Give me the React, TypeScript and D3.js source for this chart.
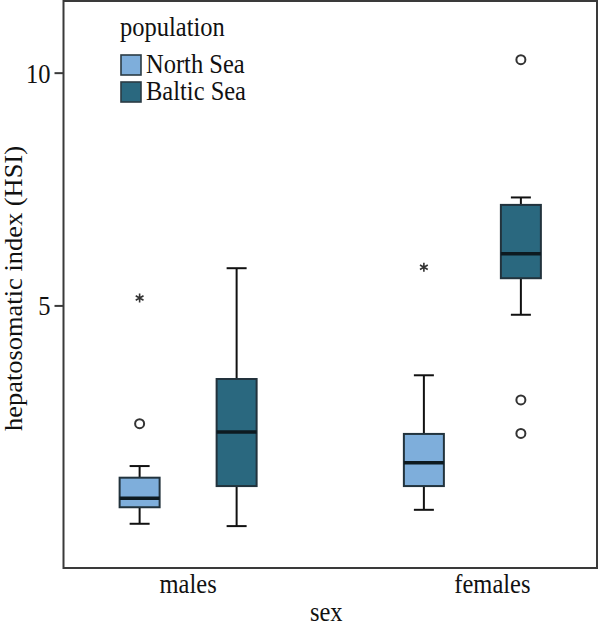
import React from "react";
import * as d3 from "d3";

const sexes = ["males", "females"];
const populations = ["North Sea", "Baltic Sea"];
const popColors = ["#7eaedb", "#2a687f"];

// per sex, per population
const whiskerLow = [[0.32, 0.27], [0.62, 4.81]];
const q1 = [[0.675, 1.13], [1.13, 5.595]];
const medians = [[0.868, 2.29], [1.63, 6.12]];
const q3 = [[1.31, 3.43], [2.25, 7.17]];
const whiskerHigh = [[1.56, 5.81], [3.51, 7.33]];
const outliers = [[[2.47], []], [[], [10.29, 2.98, 2.26]]];
const extremes = [[[5.17], []], [[5.83], []]];

const yTicks = [5, 10];
const labelNudge = [0, 20];

const W = 598;
const H = 627;
const left = 63.5;
const right = 597;
const top = 1;
const bottom = 568;

const FONT = "'Liberation Serif', 'Times New Roman', serif";

function T({ x, y, anchor = "start", children, size = 24.5 }: any) {
  return (
    <g transform={`translate(${x},${y})`}>
      <text
        transform="scale(1,1.1)"
        fontFamily={FONT}
        fontSize={size}
        textAnchor={anchor}
        fill="#111"
      >
        {children}
      </text>
    </g>
  );
}

export default function App() {
  const y = d3.scaleLinear().domain([-0.63, 11.55]).range([bottom, top]);
  const x = d3.scalePoint<string>().domain(sexes).range([left, right]).padding(0.4384);
  const xp = d3.scalePoint<string>().domain(populations).range([-48.5, 48.5]);
  const boxW = 40;
  const capW = 20;

  const asterisk = (cx: number, cy: number, r: number) => {
    const p = d3.path();
    for (let k = 0; k < 3; k++) {
      const a = (k * Math.PI) / 3;
      p.moveTo(cx + r * Math.sin(a), cy - r * Math.cos(a));
      p.lineTo(cx - r * Math.sin(a), cy + r * Math.cos(a));
    }
    return p.toString();
  };

  return (
    <svg
      width={W}
      height={H}
      style={{ position: "absolute", left: 0, top: 0, background: "#fff" }}
    >
      <rect x={0} y={0} width={W} height={H} fill="#fff" />
      {/* boxes */}
      {sexes.map((s, i) =>
        populations.map((p, j) => {
          const cx = (x(s) as number) + (xp(p) as number);
          return (
            <g key={s + p}>
              <line x1={cx} x2={cx} y1={y(whiskerLow[i][j])} y2={y(q1[i][j])} stroke="#111" strokeWidth={2} />
              <line x1={cx} x2={cx} y1={y(q3[i][j])} y2={y(whiskerHigh[i][j])} stroke="#111" strokeWidth={2} />
              <line x1={cx - capW / 2} x2={cx + capW / 2} y1={y(whiskerLow[i][j])} y2={y(whiskerLow[i][j])} stroke="#111" strokeWidth={2} />
              <line x1={cx - capW / 2} x2={cx + capW / 2} y1={y(whiskerHigh[i][j])} y2={y(whiskerHigh[i][j])} stroke="#111" strokeWidth={2} />
              <rect
                x={cx - boxW / 2}
                y={y(q3[i][j])}
                width={boxW}
                height={y(q1[i][j]) - y(q3[i][j])}
                fill={popColors[j]}
                stroke="#22333d"
                strokeWidth={2}
              />
              <line x1={cx - boxW / 2} x2={cx + boxW / 2} y1={y(medians[i][j])} y2={y(medians[i][j])} stroke="#0d1a20" strokeWidth={3.5} />
              {outliers[i][j].map((v, k) => (
                <circle key={k} cx={cx} cy={y(v)} r={4.5} fill="#fff" stroke="#333" strokeWidth={2} />
              ))}
              {extremes[i][j].map((v, k) => (
                <path key={k} d={asterisk(cx, y(v), 4.5)} stroke="#333" strokeWidth={1.6} fill="none" />
              ))}
            </g>
          );
        })
      )}
      {/* frame */}
      <rect x={left} y={top} width={right - left} height={bottom - top} fill="none" stroke="#3a3a3a" strokeWidth={2} />
      {/* y ticks */}
      {yTicks.map((t) => (
        <g key={t}>
          <line x1={left - 9} x2={left} y1={y(t)} y2={y(t)} stroke="#3a3a3a" strokeWidth={2} />
          <T x={left - 13} y={y(t) + 9.5} anchor="end">{t}</T>
        </g>
      ))}
      {/* x labels */}
      {sexes.map((s, i) => (
        <T key={s} x={(x(s) as number) + labelNudge[i]} y={593} anchor="middle">{s}</T>
      ))}
      <T x={(left + right) / 2 - 4} y={620.5} anchor="middle">sex</T>
      {/* y title */}
      <g transform={`translate(21.5,${(top + bottom) / 2 + 4}) rotate(-90)`}>
        <text transform="scale(1.08,1)" fontFamily={FONT} fontSize={24.5} textAnchor="middle" fill="#111">
          hepatosomatic index (HSI)
        </text>
      </g>
      {/* legend */}
      <T x={120} y={36}>population</T>
      {populations.map((p, j) => (
        <g key={p}>
          <rect x={121} y={55 + j * 27} width={20} height={20} fill={popColors[j]} stroke="#2b3b44" strokeWidth={1.6} />
          <T x={146} y={72.5 + j * 27.5}>{p}</T>
        </g>
      ))}
    </svg>
  );
}
